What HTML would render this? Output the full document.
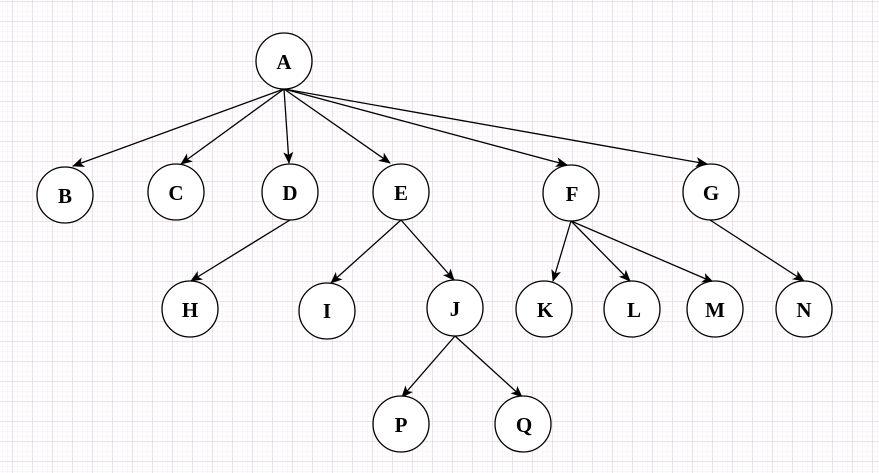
<!DOCTYPE html>
<html><head><meta charset="utf-8"><style>
html,body{margin:0;padding:0;background:#fff;}
svg{display:block;}
text{font-family:"Liberation Serif",serif;font-weight:bold;font-size:21px;fill:#000;}
</style></head><body>
<svg width="879" height="473" viewBox="0 0 879 473" xmlns="http://www.w3.org/2000/svg">
<defs>
<pattern id="minor" width="5" height="5" patternUnits="userSpaceOnUse" x="2" y="1">
<path d="M0 0H5M0 0V5" stroke="#f6eef3" stroke-width="1" fill="none"/>
</pattern>
<pattern id="major" width="20" height="20" patternUnits="userSpaceOnUse" x="12.5" y="1.5">
<path d="M0 0H20M0 0V20" stroke="#e6d0de" stroke-width="1" fill="none"/>
</pattern>
<marker id="ar" markerWidth="12" markerHeight="10" refX="11" refY="5" orient="auto" markerUnits="userSpaceOnUse">
<path d="M0 0L12 5L0 10L3 5Z" fill="#000"/>
</marker>
</defs>
<rect width="879" height="473" fill="#fff"/>
<rect width="879" height="473" fill="url(#minor)"/>
<rect width="879" height="473" fill="url(#major)"/>
<g stroke="#000" stroke-width="1.3" fill="none" marker-end="url(#ar)">
<line x1="284" y1="89" x2="73" y2="166"/>
<line x1="284" y1="89" x2="181" y2="164"/>
<line x1="284" y1="89" x2="289" y2="163"/>
<line x1="284" y1="89" x2="390" y2="163"/>
<line x1="284" y1="89" x2="567" y2="165"/>
<line x1="284" y1="89" x2="707" y2="164"/>
<line x1="290" y1="220" x2="191" y2="281"/>
<line x1="401" y1="220" x2="331" y2="283"/>
<line x1="401" y1="220" x2="454" y2="280"/>
<line x1="571" y1="221" x2="553" y2="281"/>
<line x1="571" y1="221" x2="630" y2="281"/>
<line x1="571" y1="221" x2="713" y2="282"/>
<line x1="710" y1="220" x2="804" y2="281"/>
<line x1="455" y1="336" x2="402" y2="397"/>
<line x1="455" y1="336" x2="522" y2="397"/>
</g>
<g stroke="#000" stroke-width="1.3" fill="#fff">
<circle cx="284" cy="61" r="28"/>
<circle cx="65" cy="195" r="28"/>
<circle cx="176" cy="192" r="28"/>
<circle cx="290" cy="192" r="28"/>
<circle cx="401" cy="192" r="28"/>
<circle cx="571" cy="193" r="28"/>
<circle cx="711" cy="192" r="28"/>
<circle cx="190" cy="309" r="28"/>
<circle cx="327" cy="311" r="28"/>
<circle cx="455" cy="308" r="28"/>
<circle cx="544" cy="309" r="28"/>
<circle cx="632" cy="309" r="28"/>
<circle cx="715" cy="309" r="28"/>
<circle cx="804" cy="309" r="28"/>
<circle cx="401" cy="424" r="28"/>
<circle cx="523" cy="424" r="28"/>
</g>
<g text-anchor="middle">
<text x="284" y="69">A</text>
<text x="65" y="203">B</text>
<text x="176" y="200">C</text>
<text x="290" y="200">D</text>
<text x="401" y="200">E</text>
<text x="572" y="201">F</text>
<text x="711" y="200">G</text>
<text x="190" y="317">H</text>
<text x="327" y="318">I</text>
<text x="455" y="316">J</text>
<text x="545" y="317">K</text>
<text x="634" y="317">L</text>
<text x="715" y="317">M</text>
<text x="804" y="317">N</text>
<text x="401" y="432">P</text>
<text x="524" y="432">Q</text>
</g>
</svg>
</body></html>
